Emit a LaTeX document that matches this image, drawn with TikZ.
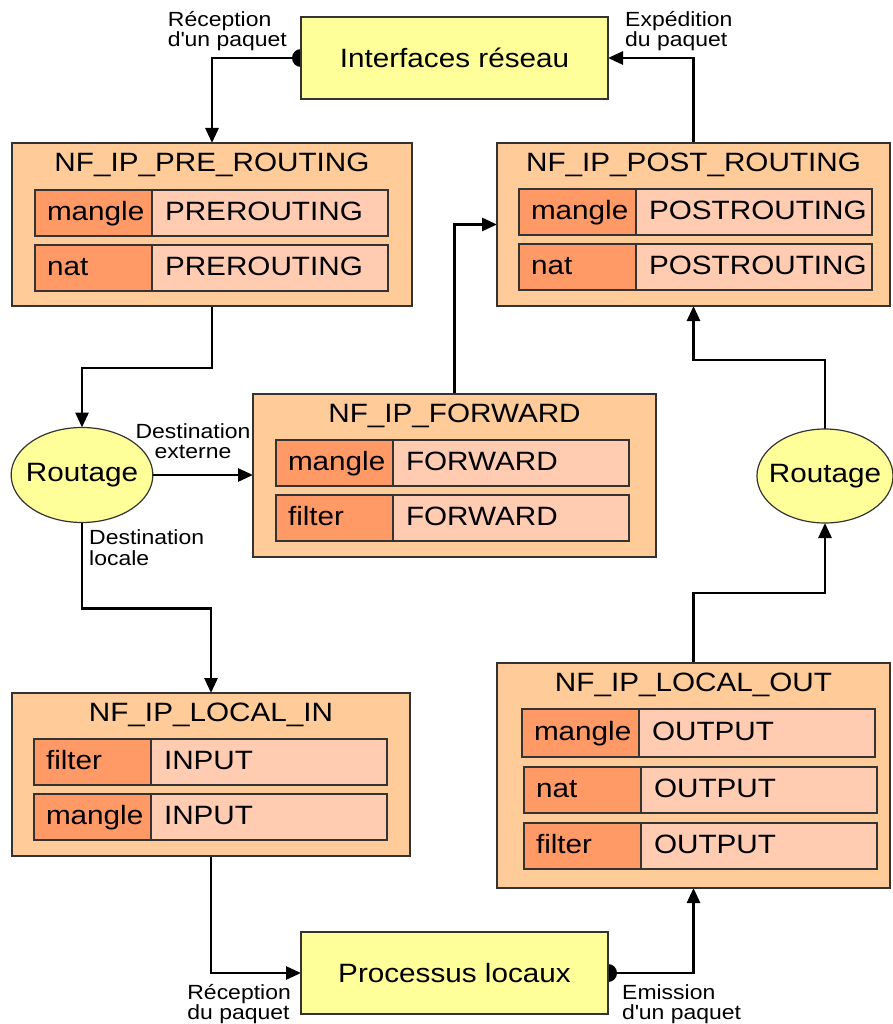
\documentclass[tikz,border=0pt]{standalone}
\usepackage{fontspec}
\setmainfont{Liberation Sans}[FakeStretch=1.12]
\usetikzlibrary{positioning,shapes.geometric,arrows.meta,backgrounds}

\definecolor{hookfill}{HTML}{FFCC99}
\definecolor{tablefill}{HTML}{FF9966}
\definecolor{chainfill}{HTML}{FFCCB2}
\definecolor{procfill}{HTML}{FFFF99}
\definecolor{edgegray}{HTML}{333333}

\newcommand{\mainsize}{\fontsize{26.5}{30}\selectfont}
\newcommand{\notesize}{\fontsize{20.5}{20.5}\selectfont}

\begin{document}
\begin{tikzpicture}[x=1pt,y=-1pt,
    hook/.style={draw=edgegray,line width=1.5pt,fill=hookfill,outer sep=0pt},
    hooktitle/.style={font=\mainsize,inner sep=0pt},
    tablecell/.style={draw=edgegray,line width=1.2pt,fill=tablefill,outer sep=0pt,
      minimum height=46pt,text width=93pt,text height=20.5pt,text depth=5pt,
      inner xsep=12pt,inner ysep=0pt,align=left,font=\mainsize},
    chaincell/.style={draw=edgegray,line width=1.2pt,fill=chainfill,outer sep=0pt,
      minimum height=46pt,text width=210pt,text height=20.5pt,text depth=5pt,
      inner xsep=13pt,inner ysep=0pt,align=left,font=\mainsize},
    proc/.style={draw=edgegray,line width=1.5pt,fill=procfill,outer sep=0pt,font=\mainsize},
    router/.style={ellipse,draw=edgegray,line width=1.2pt,fill=procfill,inner ysep=0pt,outer sep=0pt,font=\mainsize},
    note/.style={font=\notesize,align=left,inner sep=0pt},
    flow/.style={line width=2.8pt,-{Triangle[length=15pt,width=13pt]}}]
  \useasboundingbox (0,0) rectangle (892,1024);

  % interfaces and processes
  \node[proc,minimum width=307pt,minimum height=82pt] (iface) at (454.5,58) {Interfaces réseau};
  \node[proc,minimum width=307pt,minimum height=82pt] (procs) at (454.5,973) {Processus locaux};

  % routing decisions
  \node[router,inner xsep=-6pt,minimum height=95pt] (rtl) at (82,475) {Routage};
  \node[router,inner xsep=-8pt,minimum height=94pt] (rtr) at (825,476) {Routage};

  % PRE_ROUTING
  \node[hook,minimum width=400pt,minimum height=163pt] (pre) at (212,224.5) {};
  \node[hooktitle,below=10pt of pre.north] (pretitle) {NF\_IP\_PRE\_ROUTING};
  \node[tablecell,below right=47pt and 23pt of pre.north west] (pre1t) {mangle};
  \node[chaincell,right=0pt of pre1t] (pre1c) {PREROUTING};
  \node[tablecell,below=9pt of pre1t] (pre2t) {nat};
  \node[chaincell,right=0pt of pre2t] (pre2c) {PREROUTING};

  % POST_ROUTING
  \node[hook,minimum width=393pt,minimum height=163pt] (post) at (693.5,224.5) {};
  \node[hooktitle,below=10pt of post.north] (posttitle) {NF\_IP\_POST\_ROUTING};
  \node[tablecell,below right=46pt and 22pt of post.north west] (post1t) {mangle};
  \node[chaincell,right=0pt of post1t] (post1c) {POSTROUTING};
  \node[tablecell,below=9pt of post1t] (post2t) {nat};
  \node[chaincell,right=0pt of post2t] (post2c) {POSTROUTING};

  % FORWARD
  \node[hook,minimum width=403pt,minimum height=163pt] (fwd) at (454.5,475.5) {};
  \node[hooktitle,below=10pt of fwd.north] (fwdtitle) {NF\_IP\_FORWARD};
  \node[tablecell,below right=46pt and 23pt of fwd.north west] (fwd1t) {mangle};
  \node[chaincell,right=0pt of fwd1t] (fwd1c) {FORWARD};
  \node[tablecell,below=9pt of fwd1t] (fwd2t) {filter};
  \node[chaincell,right=0pt of fwd2t] (fwd2c) {FORWARD};

  % LOCAL_IN
  \node[hook,minimum width=398pt,minimum height=163pt] (lin) at (211,774.5) {};
  \node[hooktitle,below=10pt of lin.north] (lintitle) {NF\_IP\_LOCAL\_IN};
  \node[tablecell,below right=46pt and 22pt of lin.north west] (lin1t) {filter};
  \node[chaincell,right=0pt of lin1t] (lin1c) {INPUT};
  \node[tablecell,below=9pt of lin1t] (lin2t) {mangle};
  \node[chaincell,right=0pt of lin2t] (lin2c) {INPUT};

  % LOCAL_OUT
  \node[hook,minimum width=393pt,minimum height=225pt] (lout) at (693.5,775.5) {};
  \node[hooktitle,below=10pt of lout.north] (louttitle) {NF\_IP\_LOCAL\_OUT};
  \node[tablecell,below right=46pt and 25pt of lout.north west,minimum height=48pt] (lout1t) {mangle};
  \node[chaincell,right=0pt of lout1t,minimum height=48pt] (lout1c) {OUTPUT};
  \node[tablecell,below=10pt of lout1t,xshift=2pt] (lout2t) {nat};
  \node[chaincell,right=0pt of lout2t] (lout2c) {OUTPUT};
  \node[tablecell,below=10pt of lout2t] (lout3t) {filter};
  \node[chaincell,right=0pt of lout3t] (lout3c) {OUTPUT};

  % labels
  \node[note,above left=7pt and 14pt of iface.west] (rxnet) {Réception\\d\textquotesingle un paquet};
  \node[note,above right=7pt and 17pt of iface.east] (txnet) {Expédition\\du paquet};
  \node[note,align=center] (extdst) at (193,441) {Destination\\externe};
  \node[note,below right=7pt and 7pt of rtl.south] (locdst) {Destination\\locale};
  \node[note,below left=11pt and 10pt of procs.west] (rxloc) {Réception\\du paquet};
  \node[note,below right=11pt and 14pt of procs.east] (txloc) {Emission\\d\textquotesingle un paquet};

  % packet flow
  \begin{scope}[on background layer]
    \fill (iface.west) circle (9pt);
    \fill (procs.east) circle (9pt);
    \draw[flow] (iface.west) -| (pre.north);
    \draw[flow] (pre.south) -- ++(0,62) -| (rtl.north);
    \draw[flow] (rtl.east) -- (rtl.east -| fwd.west);
    \draw[flow] (rtl.south) -- ++(0,86) -| (lin.north);
    \draw[flow] (fwd.north) |- (post.west);
    \draw[flow] (post.north) |- (iface.east);
    \draw[flow] (lin.south) |- (procs.west);
    \draw[flow] (procs.east) -| (lout.south);
    \draw[flow] (lout.north) -- ++(0,-70) -| (rtr.south);
    \draw[flow] (rtr.north) -- ++(0,-69) -| (post.south);
  \end{scope}
\end{tikzpicture}
\end{document}
